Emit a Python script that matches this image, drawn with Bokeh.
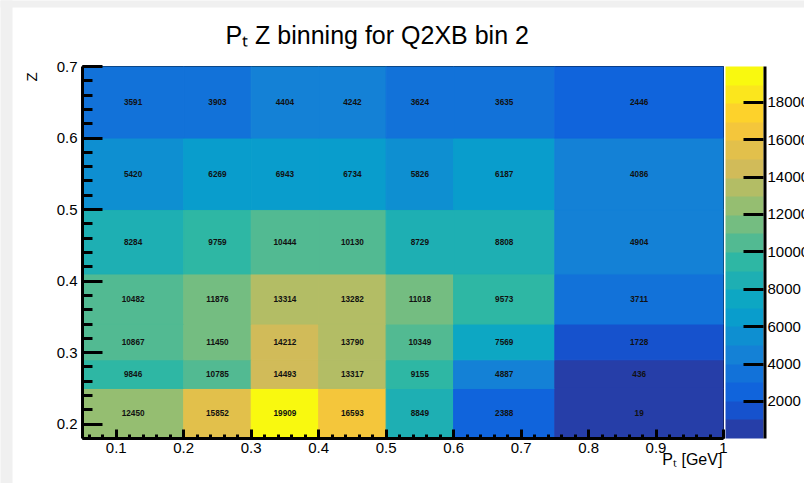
import numpy as np
from bokeh.plotting import figure
from bokeh.models import (Range1d, FixedTicker, LinearColorMapper, ColorBar, Title,
                          ColumnDataSource)
from bokeh.transform import transform
from bokeh.core.properties import value
from bokeh.embed import file_html
from bokeh.resources import INLINE

# ---------------- data ----------------
pt_edges = [0.05, 0.2, 0.3, 0.4, 0.5, 0.6, 0.75, 1.0]
z_edges = [0.18, 0.25, 0.29, 0.34, 0.41, 0.5, 0.6, 0.7]
# counts per z bin (ascending z), one value per pt bin
counts_z1 = [12450, 15852, 19909, 16593, 8849, 2388, 19]
counts_z2 = [9846, 10785, 14493, 13317, 9155, 4887, 436]
counts_z3 = [10867, 11450, 14212, 13790, 10349, 7569, 1728]
counts_z4 = [10482, 11876, 13314, 13282, 11018, 9573, 3711]
counts_z5 = [8284, 9759, 10444, 10130, 8729, 8808, 4904]
counts_z6 = [5420, 6269, 6943, 6734, 5826, 6187, 4086]
counts_z7 = [3591, 3903, 4404, 4242, 3624, 3635, 2446]
x_ticks = [0.1, 0.2, 0.3, 0.4, 0.5, 0.6, 0.7, 0.8, 0.9, 1.0]
x_tick_labels = ["0.1", "0.2", "0.3", "0.4", "0.5", "0.6", "0.7", "0.8", "0.9", "1"]
y_ticks = [0.2, 0.3, 0.4, 0.5, 0.6, 0.7]
y_tick_labels = ["0.2", "0.3", "0.4", "0.5", "0.6", "0.7"]
z_ticks = [2000, 4000, 6000, 8000, 10000, 12000, 14000, 16000, 18000]
title_text = "P\u209c Z binning for Q2XB bin 2"
x_title = "P\u209c [GeV]"
y_title = "Z"

rows = [counts_z1, counts_z2, counts_z3, counts_z4, counts_z5, counts_z6, counts_z7]

# ---------------- ROOT kBird palette ----------------
def root_bird(n=255):
    stops = [0.0, 0.125, 0.25, 0.375, 0.5, 0.625, 0.75, 0.875, 1.0]
    red = [0.2082, 0.0592, 0.0780, 0.0232, 0.1802, 0.5301, 0.8186, 0.9956, 0.9764]
    green = [0.1664, 0.3599, 0.5041, 0.6419, 0.7178, 0.7492, 0.7328, 0.7862, 0.9832]
    blue = [0.5293, 0.8684, 0.8385, 0.7914, 0.6425, 0.4662, 0.3499, 0.1968, 0.0539]
    cols = []
    for g in range(1, len(stops)):
        nc = int(np.floor(n * stops[g]) - np.floor(n * stops[g - 1]))
        for c in range(nc):
            r = red[g - 1] + c * (red[g] - red[g - 1]) / nc
            gg = green[g - 1] + c * (green[g] - green[g - 1]) / nc
            b = blue[g - 1] + c * (blue[g] - blue[g - 1]) / nc
            cols.append("#%02x%02x%02x" % (int(r * 255 + 0.5), int(gg * 255 + 0.5), int(b * 255 + 0.5)))
    return cols

bird = root_bird(255)
ndiv = 20
pal20 = [bird[int((i + 0.99) * len(bird) / ndiv)] for i in range(ndiv)]

# ---------------- cells ----------------
L, R, B, T, XC, YC, V, TXT = [], [], [], [], [], [], [], []
for j, row in enumerate(rows):
    for i, v in enumerate(row):
        L.append(pt_edges[i]); R.append(pt_edges[i + 1])
        B.append(z_edges[j]); T.append(z_edges[j + 1])
        XC.append(0.5 * (pt_edges[i] + pt_edges[i + 1]))
        YC.append(0.5 * (z_edges[j] + z_edges[j + 1]))
        V.append(v); TXT.append(str(v))
src = ColumnDataSource(dict(left=L, right=R, bottom=B, top=T, xc=XC, yc=YC, v=V, txt=TXT))

zmin = min(V)
zmax = max(V)
mapper = LinearColorMapper(palette=pal20, low=zmin, high=zmax)

# ---------------- geometry (page pixels) ----------------
FW, FH = 804, 483
FR_L, FR_R, FR_T, FR_B = 82, 723, 66, 438
FONT = "Liberation Sans"
NBSP = "\u00a0"

p = figure(width=FW, height=FH, x_range=Range1d(pt_edges[0], pt_edges[-1]),
           y_range=Range1d(z_edges[0], z_edges[-1]),
           output_backend="svg", toolbar_location=None, title=None,
           min_border_left=FR_L, min_border_right=FW - FR_R,
           min_border_top=FR_T, min_border_bottom=FH - FR_B)
p.border_fill_color = "white"
p.background_fill_color = "white"
p.outline_line_color = "black"
p.outline_line_width = 1
p.grid.visible = False

# page background strips (grey margin of the original canvas)
def strip(x, y, w, h, orient):
    m = LinearColorMapper(palette=["#f0f0f0"], low=0, high=1)
    cbx = ColorBar(color_mapper=m, location=(x - FR_L, FR_B - (y + h)), width=w, height=h,
                   orientation=orient, padding=0, margin=0, ticker=FixedTicker(ticks=[]),
                   major_tick_line_color=None, minor_tick_line_color=None,
                   bar_line_color=None, border_line_color=None, background_fill_color=None)
    p.add_layout(cbx, "center")

strip(0, 0, 12, FH, "vertical")
strip(0, 0, FW, 7, "horizontal")

p.quad(left="left", right="right", bottom="bottom", top="top", source=src,
       fill_color=transform("v", mapper), line_color=transform("v", mapper), line_width=1)
p.text(x="xc", y="yc", text="txt", source=src, text_font=value(FONT),
       text_font_style="bold", text_font_size="8.2px", text_align="center",
       text_baseline="middle", text_color="#111111")

# axes
x_minor = [round(v, 2) for v in np.arange(0.06, 1.0001, 0.02)]
y_minor = [round(v, 2) for v in np.arange(0.18, 0.7001, 0.02)]
p.xaxis.ticker = FixedTicker(ticks=x_ticks, minor_ticks=x_minor)
p.yaxis.ticker = FixedTicker(ticks=y_ticks, minor_ticks=y_minor)
p.xaxis.major_label_overrides = dict(zip(x_ticks, x_tick_labels))
p.yaxis.major_label_overrides = dict(zip(y_ticks, y_tick_labels))
for ax in (p.below[0], p.left[0]):
    ax.axis_line_width = 3
    ax.axis_line_color = "black"
    ax.major_tick_line_color = "black"
    ax.minor_tick_line_color = "black"
    ax.major_tick_line_width = 3
    ax.minor_tick_line_width = 3
    ax.major_tick_out = 0
    ax.minor_tick_out = 0
    ax.major_label_text_font = FONT
    ax.major_label_text_font_size = "15px"
    ax.major_label_text_color = "black"
    ax.axis_label_text_font = FONT
    ax.axis_label_text_font_style = "normal"
    ax.axis_label_text_color = "black"
    ax.axis_label_align = "end"
xa, ya = p.below[0], p.left[0]
xa.major_tick_in = 9
xa.minor_tick_in = 4
xa.major_label_standoff = 4
xa.axis_label = x_title + NBSP * 14   # trailing pad: label is centred on the axis end
xa.axis_label_text_font_size = "16px"
xa.axis_label_standoff = -5
ya.major_tick_in = 20
ya.minor_tick_in = 10
ya.major_label_standoff = 5
ya.axis_label = y_title + NBSP * 5
ya.axis_label_text_font_size = "15px"
ya.axis_label_standoff = 14

# title
p.add_layout(Title(text=title_text, align="left", offset=225 - FR_L, standoff=35,
                   text_font=FONT, text_font_size="25px", text_font_style="normal",
                   text_color="black"), "above")

# colour bar
cb = ColorBar(color_mapper=mapper, location=(725 - FR_L, 0), width=38, height=FR_B - FR_T,
              padding=0, margin=0, ticker=FixedTicker(ticks=z_ticks),
              major_tick_in=20, major_tick_out=0, major_tick_line_color="black",
              major_tick_line_width=3, minor_tick_line_color=None,
              major_label_text_font=FONT, major_label_text_font_size="15px",
              major_label_text_color="black", label_standoff=4,
              bar_line_color=None, border_line_color=None, background_fill_color=None)
p.add_layout(cb, "center")
# black axis line on the right edge of the colour bar
edge = ColorBar(color_mapper=LinearColorMapper(palette=["black"], low=0, high=1),
                location=(763 - FR_L, 0), width=3, height=FR_B - FR_T, padding=0, margin=0,
                ticker=FixedTicker(ticks=[]), major_tick_line_color=None,
                minor_tick_line_color=None, bar_line_color=None, border_line_color=None,
                background_fill_color=None)
p.add_layout(edge, "center")

html = file_html(p, INLINE)
open("out.html", "w").write(html)
